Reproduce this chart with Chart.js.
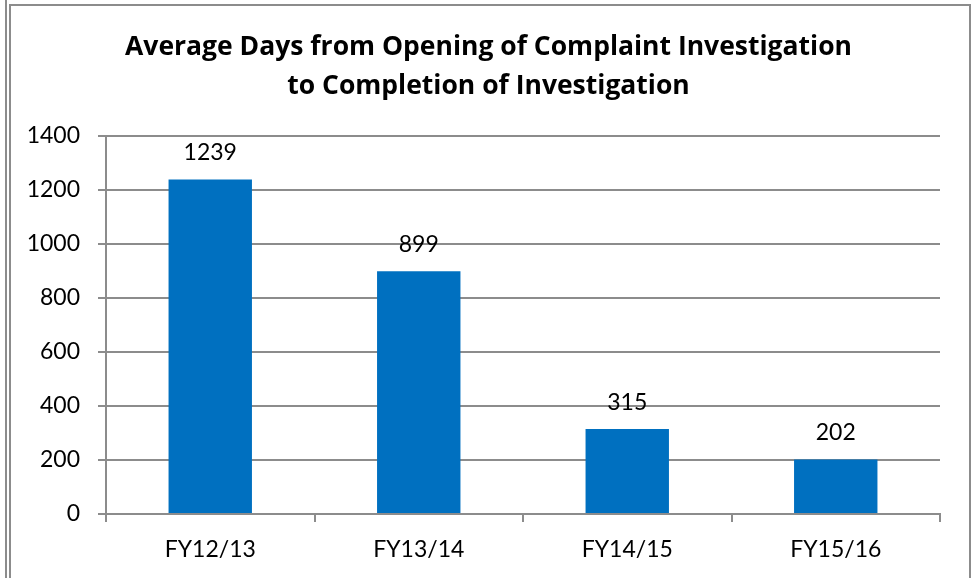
<!DOCTYPE html>
<html>
<head>
<meta charset="utf-8">
<script src="https://cdn.jsdelivr.net/npm/chart.js@4"></script>
<style>
    html, body { margin: 0; padding: 0; background: #fff; }
    #wrap { position: relative; width: 977px; height: 578px; overflow: hidden; }
    #chart { position: absolute; left: 0; top: 0; }
    .edge { position: absolute; background: #8c8c8c; }
</style>
</head>
<body>
<div id="wrap">
    <canvas id="chart" width="977" height="578"></canvas>
    <div class="edge" style="left:5px; top:0; width:2px; height:578px;"></div>
    <div class="edge" style="left:9px; top:4px; width:2px; height:574px;"></div>
    <div class="edge" style="left:9px; top:4px; width:962px; height:2px;"></div>
    <div class="edge" style="left:969px; top:4px; width:2px; height:574px;"></div>
</div>
<script>
const categories = ["FY12/13", "FY13/14", "FY14/15", "FY15/16"];
const avgDays = [1239, 899, 315, 202];
const titleLines = ["Average Days from Opening of Complaint Investigation", "to Completion of Investigation"];

const FONT = "Lato, 'Open Sans', sans-serif";
const TITLE_FONT = "'Open Sans', sans-serif";
const GRID = "#8c8c8c";

// title centred on the whole canvas (the plot area is off-centre)
const centredTitle = {
    id: "centredTitle",
    afterDraw(chart) {
        const ctx = chart.ctx;
        ctx.save();
        ctx.font = "bold 26.5px " + TITLE_FONT;
        ctx.fillStyle = "#000";
        ctx.textAlign = "center";
        ctx.textBaseline = "middle";
        titleLines.forEach((line, i) => {
            ctx.fillText(line, chart.width / 2, 47 + i * 39);
        });
        ctx.restore();
    }
};

// value labels above each bar
const barLabels = {
    id: "barLabels",
    afterDatasetsDraw(chart) {
        const ctx = chart.ctx;
        const meta = chart.getDatasetMeta(0);
        ctx.save();
        ctx.font = "23px " + FONT;
        ctx.fillStyle = "#000";
        ctx.textAlign = "center";
        ctx.textBaseline = "bottom";
        meta.data.forEach((bar, i) => {
            ctx.fillText(avgDays[i], bar.x, bar.y - 15);
        });
        ctx.restore();
    }
};

new Chart(document.getElementById("chart").getContext("2d"), {
    type: "bar",
    data: {
        labels: categories,
        datasets: [{
            data: avgDays,
            backgroundColor: "#0070c0",
            categoryPercentage: 1.0,
            barPercentage: 0.4
        }]
    },
    options: {
        responsive: false,
        animation: false,
        layout: { padding: { top: 136, left: 0, right: 37, bottom: 0 } },
        plugins: {
            legend: { display: false },
            tooltip: { enabled: false },
            title: { display: false }
        },
        scales: {
            x: {
                afterFit(scale) { scale.height = 64; },
                grid: { offset: true, drawOnChartArea: false, tickLength: 8, color: GRID, lineWidth: 2 },
                border: { color: GRID, width: 2 },
                ticks: { color: "#000", font: { family: FONT, size: 23 }, padding: 14 }
            },
            y: {
                min: 0,
                max: 1400,
                afterFit(scale) { scale.width = 106; },
                grid: { color: GRID, lineWidth: 2, tickLength: 8 },
                border: { color: GRID, width: 2 },
                ticks: {
                    stepSize: 200,
                    color: "#000",
                    font: { family: FONT, size: 23 },
                    padding: 18,
                    callback: v => String(v)
                }
            }
        }
    },
    plugins: [barLabels, centredTitle]
});
</script>
</body>
</html>
